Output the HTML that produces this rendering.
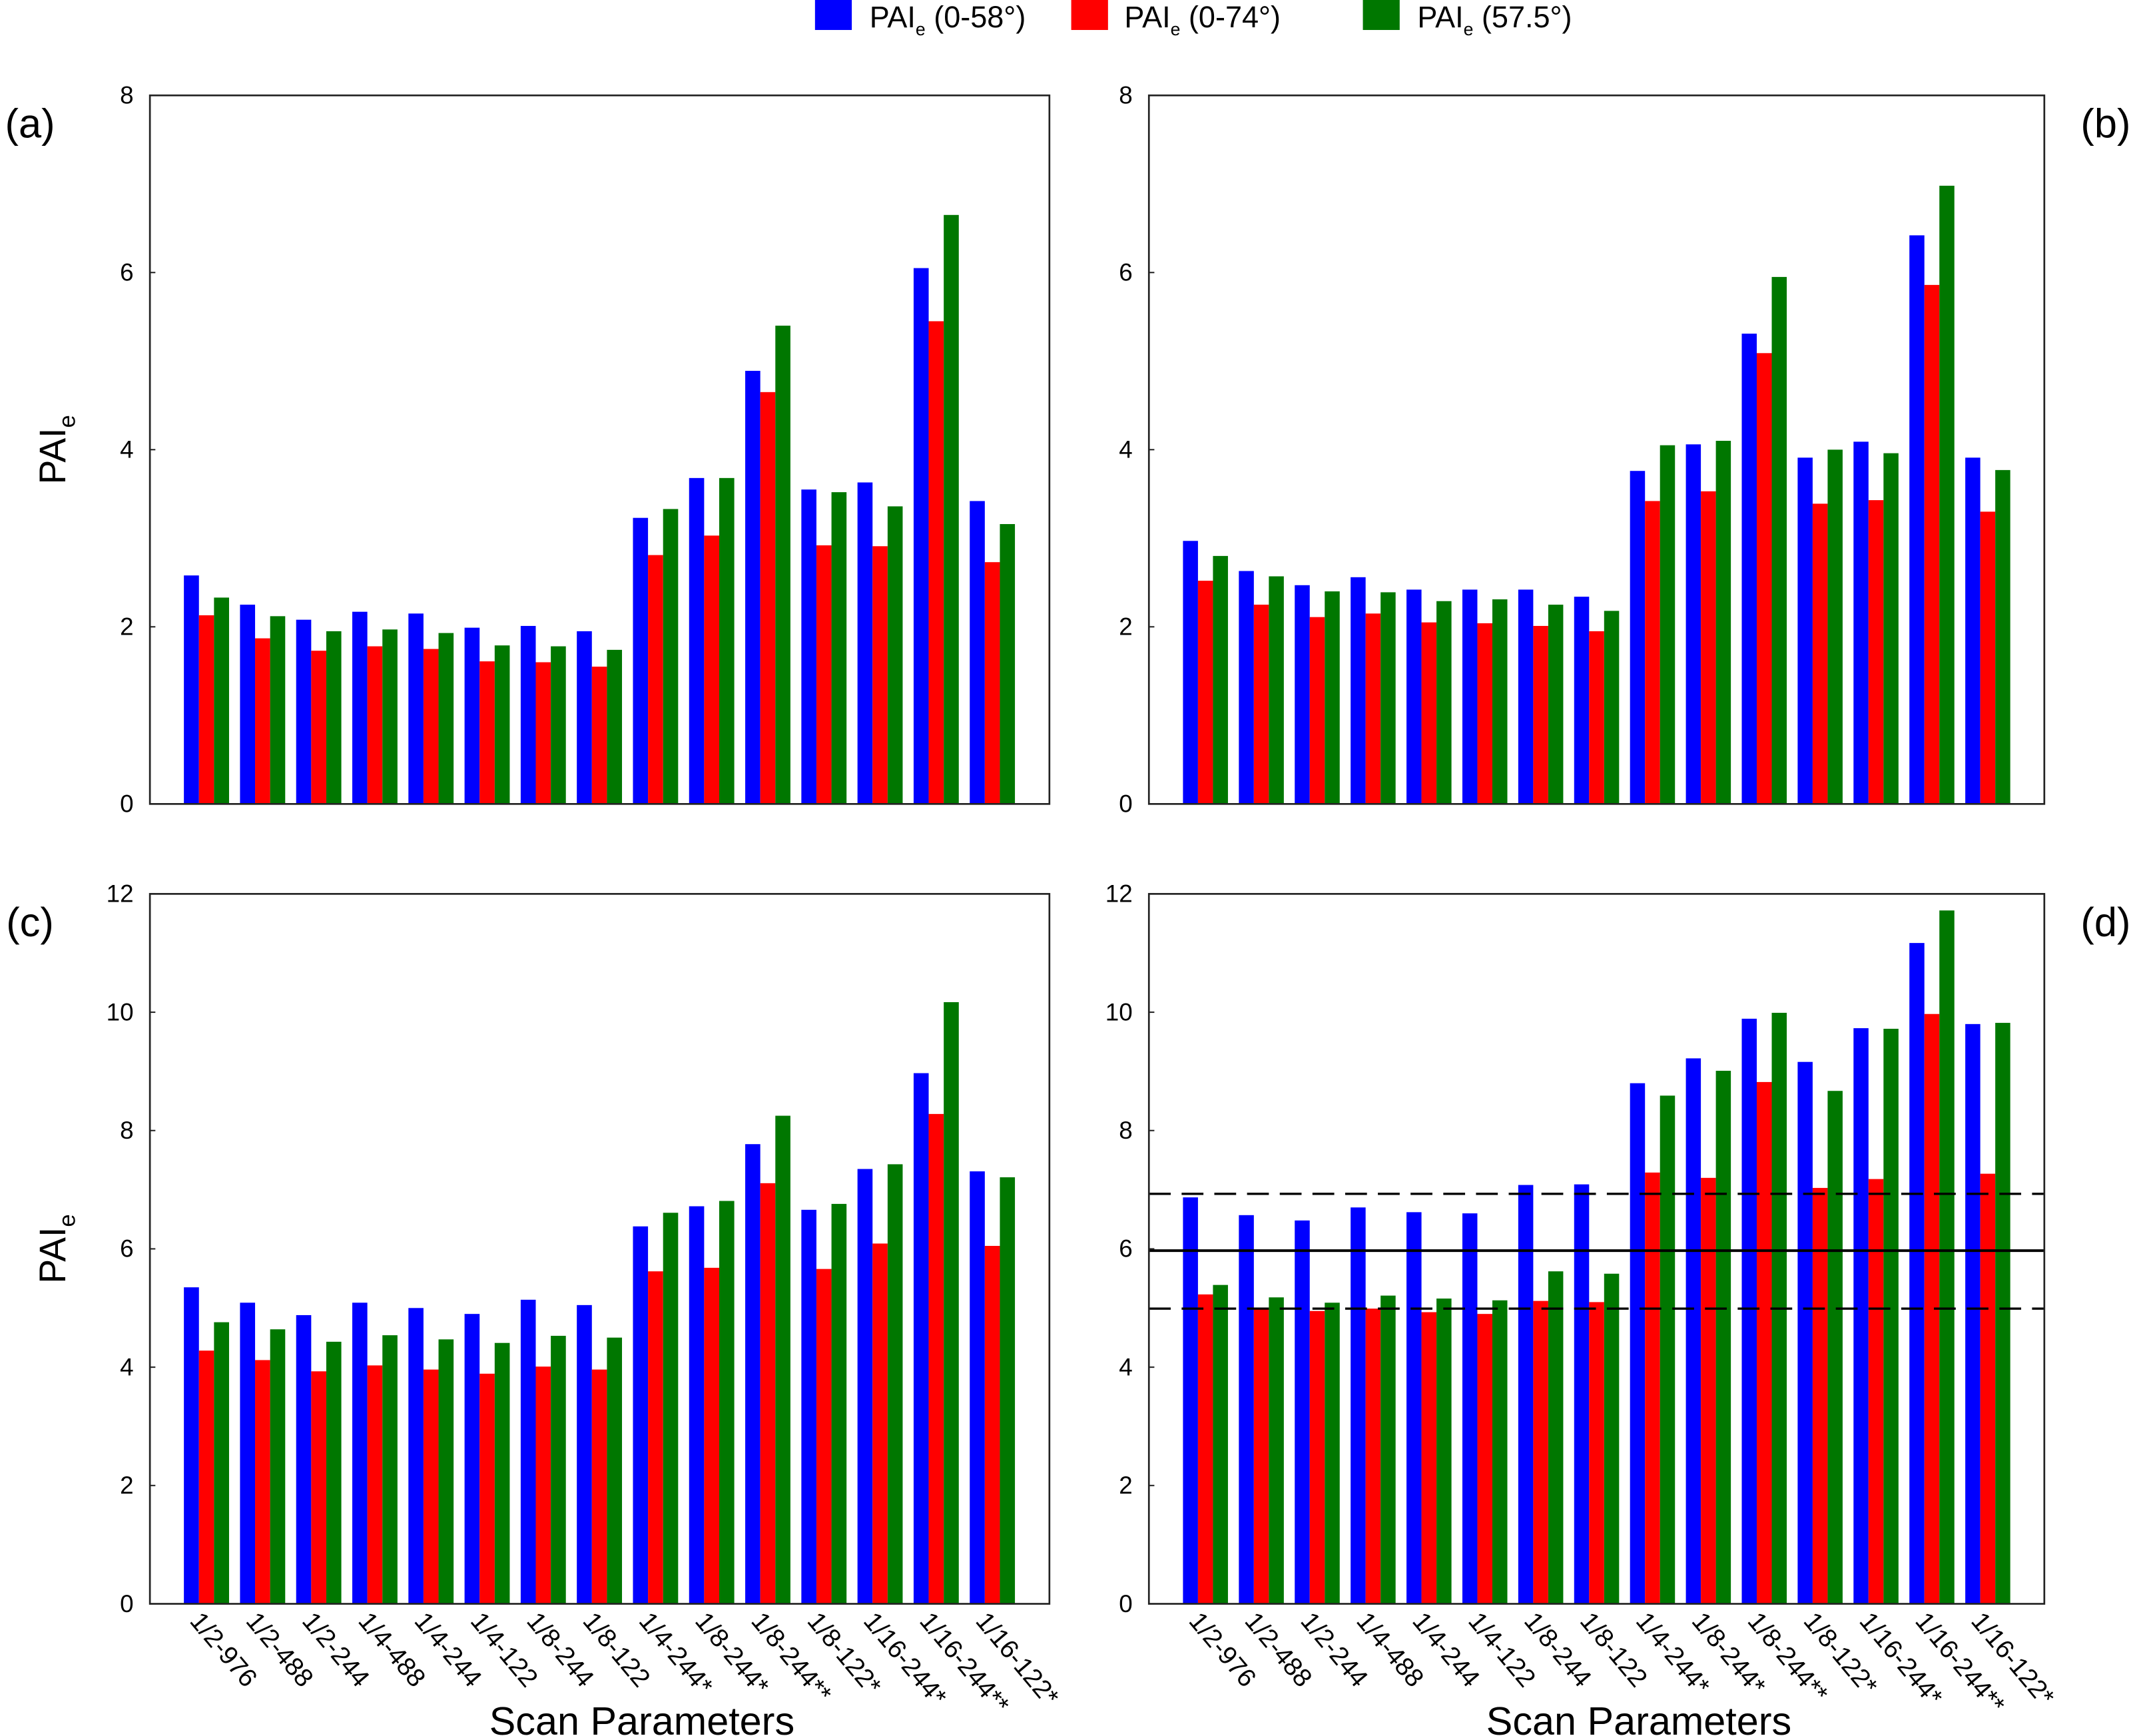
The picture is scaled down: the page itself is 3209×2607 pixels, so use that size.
<!DOCTYPE html>
<html><head><meta charset="utf-8"><style>
html,body{margin:0;padding:0;background:#fff;}
svg{display:block;font-family:"Liberation Sans",Arial,sans-serif;}
</style></head><body>
<svg id="chart" width="3209" height="2607" viewBox="0 0 1568 1274" preserveAspectRatio="none" xmlns="http://www.w3.org/2000/svg">
<g>
<rect x="598" y="0" width="27" height="22" fill="#0000ff"/>
<text x="638" y="20" font-size="22">PAI<tspan font-size="13" dy="6">e</tspan><tspan dy="-6"> (0-58°)</tspan></text>
<rect x="786" y="0" width="27" height="22" fill="#ff0000"/>
<text x="825" y="20" font-size="22">PAI<tspan font-size="13" dy="6">e</tspan><tspan dy="-6"> (0-74°)</tspan></text>
<rect x="1000" y="0" width="27" height="22" fill="#007700"/>
<text x="1040" y="20" font-size="22">PAI<tspan font-size="13" dy="6">e</tspan><tspan dy="-6"> (57.5°)</tspan></text>
</g>
</svg>
<script>
const categories = ["1/2-976","1/2-488","1/2-244","1/4-488","1/4-244","1/4-122","1/8-244","1/8-122","1/4-244*","1/8-244*","1/8-244**","1/8-122*","1/16-244*","1/16-244**","1/16-122*"];
const seriesNames = ["PAIe (0-58°)","PAIe (0-74°)","PAIe (57.5°)"];
const aBlue = [2.58,2.25,2.08,2.17,2.15,1.99,2.01,1.95,3.23,3.68,4.89,3.55,3.63,6.05,3.42];
const aRed = [2.13,1.87,1.73,1.78,1.75,1.61,1.60,1.55,2.81,3.03,4.65,2.92,2.91,5.45,2.73];
const aGreen = [2.33,2.12,1.95,1.97,1.93,1.79,1.78,1.74,3.33,3.68,5.40,3.52,3.36,6.65,3.16];
const bBlue = [2.97,2.63,2.47,2.56,2.42,2.42,2.42,2.34,3.76,4.06,5.31,3.91,4.09,6.42,3.91];
const bRed = [2.52,2.25,2.11,2.15,2.05,2.04,2.01,1.95,3.42,3.53,5.09,3.39,3.43,5.86,3.30];
const bGreen = [2.80,2.57,2.40,2.39,2.29,2.31,2.25,2.18,4.05,4.10,5.95,4.00,3.96,6.98,3.77];
const cBlue = [5.35,5.09,4.88,5.09,5.00,4.90,5.14,5.05,6.38,6.72,7.77,6.66,7.35,8.97,7.31];
const cRed = [4.28,4.12,3.93,4.03,3.96,3.89,4.01,3.96,5.62,5.68,7.11,5.66,6.09,8.28,6.05];
const cGreen = [4.76,4.64,4.43,4.54,4.47,4.41,4.53,4.50,6.61,6.81,8.25,6.76,7.43,10.17,7.21];
const dBlue = [6.87,6.57,6.48,6.70,6.62,6.60,7.08,7.09,8.80,9.22,9.89,9.16,9.73,11.17,9.80];
const dRed = [5.23,4.99,4.95,4.99,4.93,4.90,5.12,5.10,7.29,7.20,8.82,7.03,7.18,9.97,7.27];
const dGreen = [5.39,5.18,5.09,5.21,5.16,5.13,5.62,5.58,8.59,9.01,9.99,8.67,9.72,11.72,9.82];
const ticks8 = [0,2,4,6,8];
const ticks12 = [0,2,4,6,8,10,12];
const dRefLines = [6.93,5.97,4.99];

const NS = "http://www.w3.org/2000/svg";
const svg = document.getElementById("chart");
const colors = ["#0000ff","#ff0000","#007700"];
function mk(tag, attrs, parent){
  const e = document.createElementNS(NS, tag);
  for (const k in attrs) e.setAttribute(k, attrs[k]);
  (parent||svg).appendChild(e);
  return e;
}
function panel(id, left, top, right, bottom, ymax, ticks, series, letter, letterX, showXLabels, showYTitle, refLines){
  const g = mk("g", {});
  
  
  const W = right - left, H = bottom - top;
  const yScale = v => bottom - v / ymax * H;
  const xCenter = i => left + 41.5 + i * 41 * (W / 657);
  const bw = 11 * (W / 657);
  series.forEach((vals, s) => {
    vals.forEach((v, i) => {
      const x = xCenter(i) - 1.5 * bw + s * bw;
      const r = mk("rect", {x: x, y: yScale(v), width: bw, height: bottom - yScale(v), fill: colors[s]}, g);
      
      
    });
  });
  if (refLines) {
    refLines.forEach((v, k) => {
      const l = mk("line", {x1: left, x2: right, y1: yScale(v), y2: yScale(v), stroke: "#000", "stroke-width": k === 1 ? 2 : 1.6, "stroke-dasharray": k === 1 ? "none" : "16,8"}, g);
      
      
    });
  }
  const fr = mk("rect", {x: left, y: top, width: W, height: H, fill: "none", stroke: "#222", "stroke-width": 1.3}, g);
  
  
  ticks.forEach(t => {
    const y = yScale(t);
    mk("line", {x1: left, x2: left + 4, y1: y, y2: y, stroke: "#222", "stroke-width": 1}, g);
    const tx = mk("text", {x: left - 12, y: y + 6, "font-size": 18, "text-anchor": "end"}, g);
    tx.textContent = t;
    
    
  });
  if (showXLabels) {
    categories.forEach((c, i) => {
      const x = xCenter(i) - 13, y = bottom + 13;
      const tx = mk("text", {x: x, y: y, "font-size": 19, transform: "rotate(50 " + x + " " + y + ")"}, g);
      tx.textContent = c;
      
      
    });
    const xt = mk("text", {x: (left + right) / 2 + 31, y: 1273, "font-size": 29, "text-anchor": "middle"}, g);
    xt.textContent = "Scan Parameters";
    
    
  }
  if (showYTitle) {
    const cy = (top + bottom) / 2;
    const yt = mk("text", {x: 48, y: cy, "font-size": 27, "text-anchor": "middle", transform: "rotate(-90 48 " + cy + ")"}, g);
    yt.innerHTML = 'PAI<tspan font-size="17" dy="7">e</tspan>';
    
    
  }
  const lt = mk("text", {x: letterX, y: top + 31, "font-size": 30, "text-anchor": "middle"}, g);
  lt.textContent = letter;
  
  
}
panel("a", 110, 70, 770, 590, 8, ticks8, [aBlue, aRed, aGreen], "(a)", 22, false, true, null);
panel("b", 843, 70, 1500, 590, 8, ticks8, [bBlue, bRed, bGreen], "(b)", 1545, false, false, null);
panel("c", 110, 656, 770, 1177, 12, ticks12, [cBlue, cRed, cGreen], "(c)", 22, true, true, null);
panel("d", 843, 656, 1500, 1177, 12, ticks12, [dBlue, dRed, dGreen], "(d)", 1545, true, false, dRefLines);
</script>
</body></html>
